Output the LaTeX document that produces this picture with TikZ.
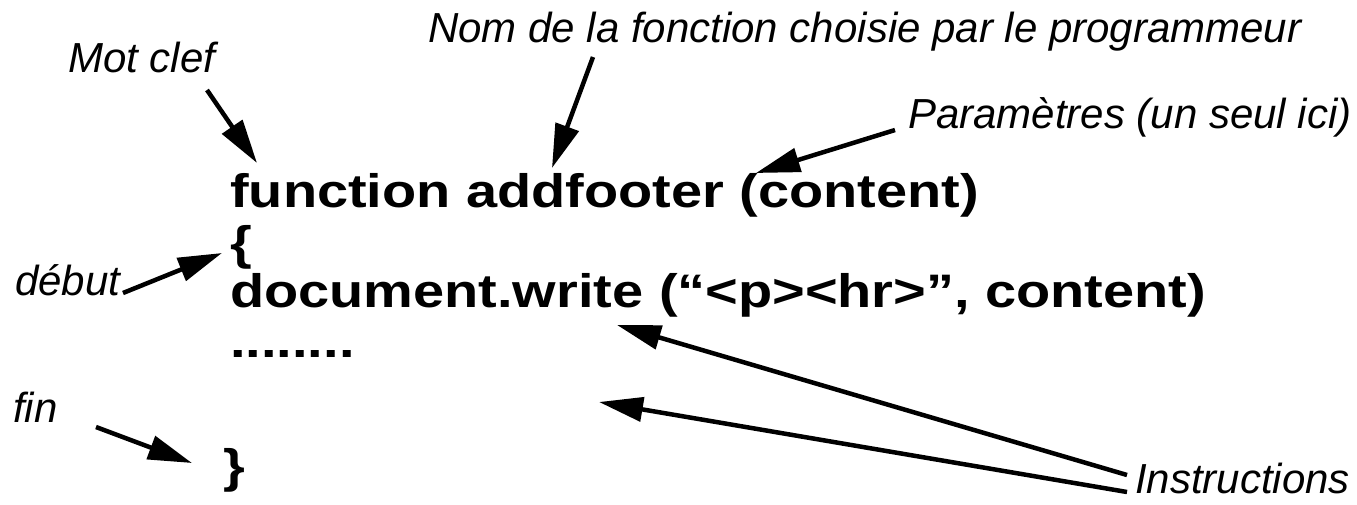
\documentclass[tikz,border=0pt]{standalone}
\usepackage{fontspec}
\usepackage{tikz}
\usetikzlibrary{arrows.meta, positioning}
\newfontfamily\notefont{Liberation Sans}
\newfontfamily\codefont[FakeStretch=1.19]{Liberation Sans}
\tikzset{
  note/.style={inner sep=0, anchor=base west, font=\notefont\itshape\fontsize{42}{50}\selectfont},
  codeline/.style={inner sep=0, anchor=base west, font=\codefont\bfseries\fontsize{47}{56}\selectfont},
  pointer/.style={line width=4.5pt, -{Triangle[length=44pt,width=24pt]}}
}

\begin{document}
\begin{tikzpicture}[x=1pt, y=-1pt]
        \useasboundingbox (0,0) rectangle (1357,504);
        % code
        \node[codeline] (head) at (230,207) {function addfooter (content)};
        \node[codeline] (open) at (230,259) {\{};
        \node[codeline] (write) at (230,307) {document.write (“<p><hr>”, content)};
        \node[codeline] (dots) at (230,357) {........};
        \node[codeline] (close) at (223,482) {\}};

        % notes
        \node[note] (motclef) at (68,72) {Mot clef};
        \node[note] (nom) at (428,42) {Nom de la fonction choisie par le programmeur};
        \node[note] (param) at (908,128) {Paramètres (un seul ici)};
        \node[note] (debut) at (15,295) {début};
        \node[note] (fin) at (13,422) {fin};
        \node[note] (instr) at (1135,493) {Instructions};

        % arrow ends
        \coordinate (motTail) at (207,90);   \coordinate (motTip) at (257,163);
        \coordinate (nomTail) at (593,57);   \coordinate (nomTip) at (552,168);
        \coordinate (paramTail) at (895,130); \coordinate (paramTip) at (756,173);
        \coordinate (debutTail) at (123,293); \coordinate (debutTip) at (222,253);
        \coordinate (finTail) at (96,427);   \coordinate (finTip) at (192,463);
        \coordinate (instrTailA) at (1127,475); \coordinate (instrTipA) at (617,325);
        \coordinate (instrTailB) at (1127,492); \coordinate (instrTipB) at (599,402);

        \draw[pointer] (motTail) -- (motTip);
        \draw[pointer] (nomTail) -- (nomTip);
        \draw[pointer] (paramTail) -- (paramTip);
        \draw[pointer] (debutTail) -- (debutTip);
        \draw[pointer] (finTail) -- (finTip);
        \draw[pointer] (instrTailA) -- (instrTipA);
        \draw[pointer] (instrTailB) -- (instrTipB);
\end{tikzpicture}
\end{document}
